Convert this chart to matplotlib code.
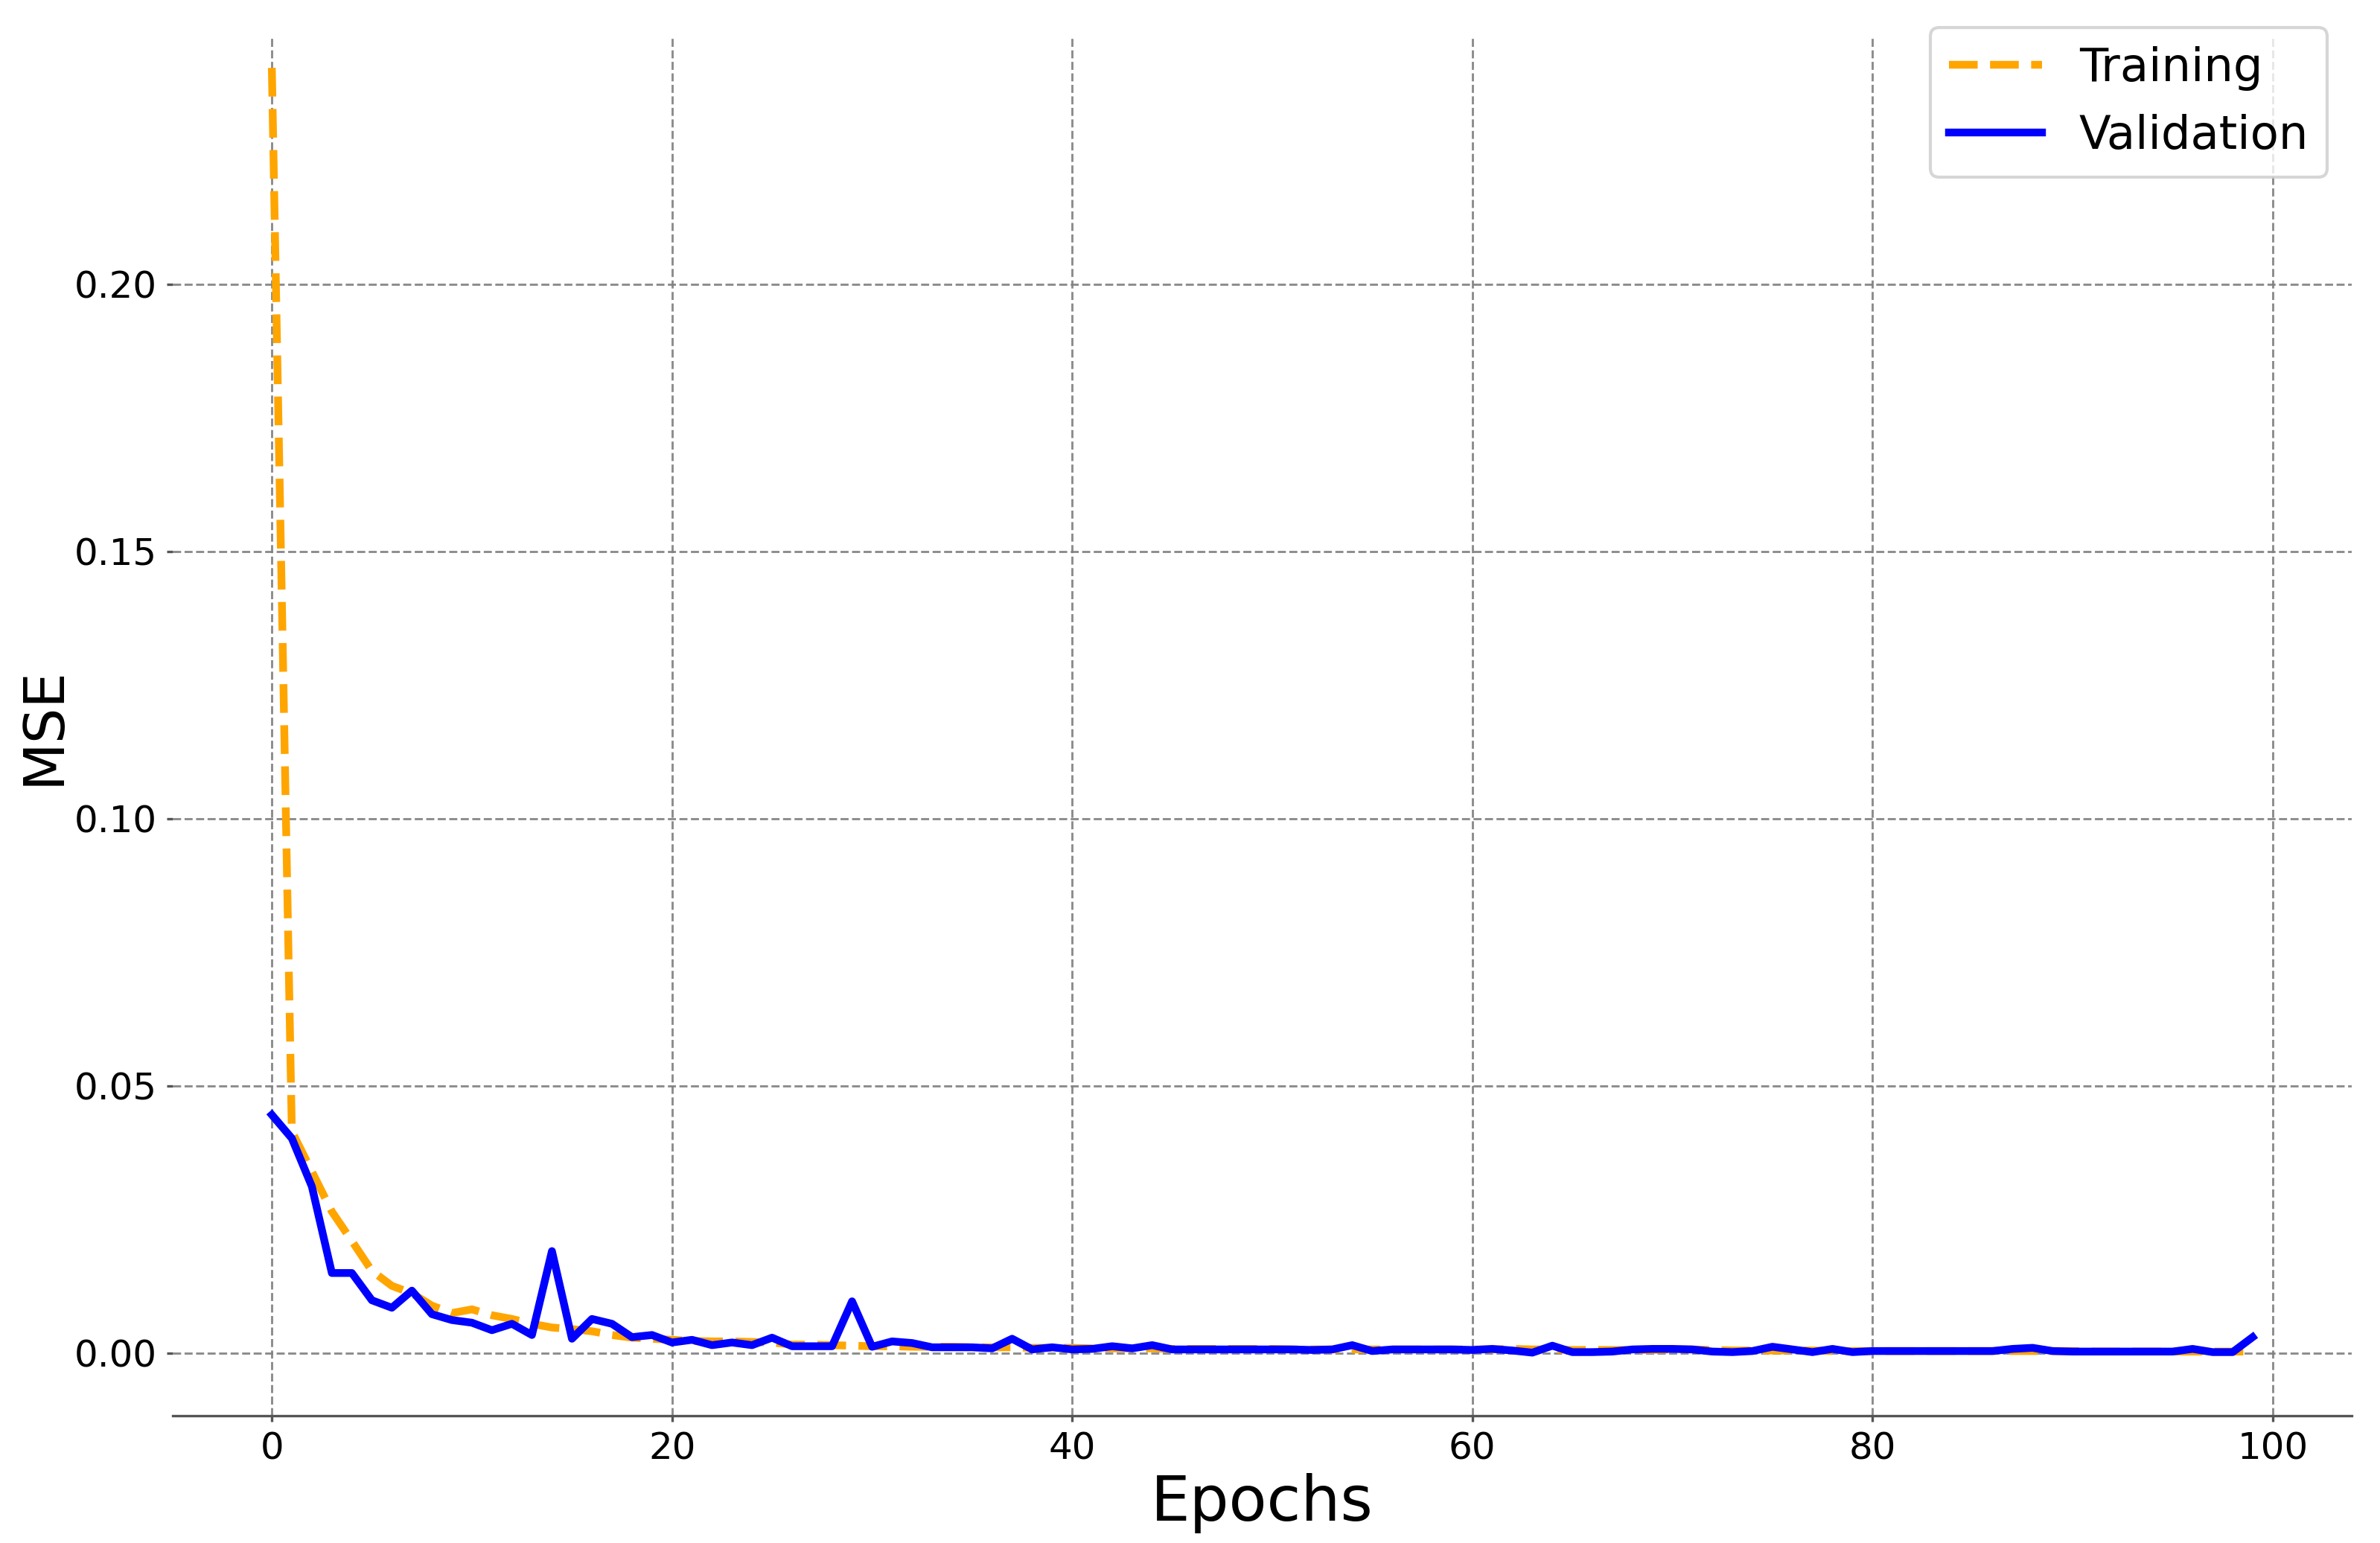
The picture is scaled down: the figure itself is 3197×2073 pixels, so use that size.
import numpy as np
import matplotlib
matplotlib.use("Agg")
import matplotlib.pyplot as plt

# valores (MSE por epoca)
epochs = np.arange(100)

train_mse = [
    0.2405, 0.0415, 0.0340, 0.0265, 0.0210, 0.0154, 0.0126, 0.0112, 0.0089, 0.0075,
    0.0082, 0.0071, 0.0064, 0.0055, 0.0048, 0.0045, 0.0041, 0.0034, 0.0029, 0.0027,
    0.0025, 0.0023, 0.0022, 0.0022, 0.0021, 0.0020, 0.0016, 0.0016, 0.0015, 0.0014,
    0.0013, 0.0013, 0.0012, 0.0012, 0.0012, 0.0011, 0.0011, 0.0011, 0.0010, 0.0010,
    0.0010, 0.0009, 0.0009, 0.0009, 0.0009, 0.0008, 0.0008, 0.0008, 0.0008, 0.0008,
    0.0008, 0.0007, 0.0007, 0.0007, 0.0007, 0.0007, 0.0007, 0.0007, 0.0007, 0.0007,
    0.0007, 0.0007, 0.0008, 0.0007, 0.0007, 0.0006, 0.0006, 0.0006, 0.0006, 0.0006,
    0.0007, 0.0007, 0.0006, 0.0005, 0.0005, 0.0005, 0.0005, 0.0005, 0.0004, 0.0004,
    0.0004, 0.0004, 0.0004, 0.0004, 0.0004, 0.0004, 0.0004, 0.0004, 0.0004, 0.0004,
    0.0004, 0.0003, 0.0003, 0.0003, 0.0003, 0.0003, 0.0003, 0.0003, 0.0003, 0.0003,
]

val_mse = [
    0.0446, 0.0402, 0.0312, 0.0150, 0.0150, 0.0099, 0.0085, 0.0117, 0.0073, 0.0062,
    0.0057, 0.0043, 0.0055, 0.0034, 0.0191, 0.0027, 0.0064, 0.0055, 0.0030, 0.0034,
    0.0020, 0.0025, 0.0015, 0.0020, 0.0015, 0.0029, 0.0013, 0.0013, 0.0013, 0.0097,
    0.0012, 0.0022, 0.0019, 0.0011, 0.0011, 0.0011, 0.0009, 0.0027, 0.0007, 0.0011,
    0.0007, 0.0008, 0.0013, 0.0009, 0.0015, 0.0007, 0.0007, 0.0007, 0.0007, 0.0007,
    0.0007, 0.0007, 0.0006, 0.0007, 0.0015, 0.0004, 0.0007, 0.0007, 0.0007, 0.0007,
    0.0006, 0.0008, 0.0005, 0.0001, 0.0014, 0.0002, 0.0002, 0.0003, 0.0007, 0.0008,
    0.0008, 0.0007, 0.0003, 0.0002, 0.0004, 0.0012, 0.0007, 0.0002, 0.0008, 0.0002,
    0.0004, 0.0004, 0.0004, 0.0004, 0.0004, 0.0004, 0.0004, 0.0008, 0.0010, 0.0004,
    0.0003, 0.0003, 0.0003, 0.0003, 0.0003, 0.0003, 0.0008, 0.0002, 0.0002, 0.0030,
]

fig = plt.figure(figsize=(3197 / 300, 2073 / 300), dpi=300)
ax = fig.add_axes([0.0726, 0.0825, 0.9155, 0.8943])

ax.plot(epochs, train_mse, color="orange", linestyle="--", linewidth=2.5, label="Training")
ax.plot(epochs, val_mse, color="blue", linestyle="-", linewidth=2.5, label="Validation")

ax.set_xlim(-4.95, 103.95)
ax.set_ylim(-0.0117, 0.2465)
ax.set_xticks([0, 20, 40, 60, 80, 100])
ax.set_yticks([0.0, 0.05, 0.10, 0.15, 0.20])
ax.set_yticklabels(["0.00", "0.05", "0.10", "0.15", "0.20"])

ax.grid(True, linestyle="--", linewidth=0.7, color="gray", alpha=0.9)
ax.set_axisbelow(True)

for s in ["top", "right", "left"]:
    ax.spines[s].set_visible(False)
ax.spines["bottom"].set_color("#555555")
ax.tick_params(axis="both", labelsize=12, length=2, pad=3, color="#555555")

ax.set_xlabel("Epochs", fontsize=20, labelpad=2)
ax.set_ylabel("MSE", fontsize=18, labelpad=1)

ax.legend(loc="upper right", fontsize=15, borderaxespad=0.3,
          bbox_to_anchor=(0.9952, 1.0162))

plt.savefig("out.png", dpi=300)
